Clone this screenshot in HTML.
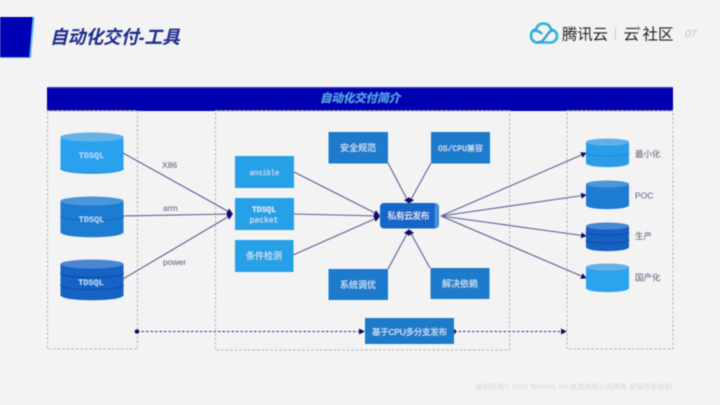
<!DOCTYPE html>
<html lang="zh"><head><meta charset="utf-8"><title>自动化交付-工具</title>
<style>
html,body{margin:0;padding:0;width:720px;height:405px;overflow:hidden;background:#f3f3f4}
svg{display:block}
text{font-family:"Liberation Sans","Noto Sans CJK SC",sans-serif}
.m{font-family:"Liberation Mono","Noto Sans CJK SC",monospace}
</style></head><body>
<svg width="720" height="405" viewBox="0 0 720 405" xmlns="http://www.w3.org/2000/svg">
<defs>
<marker id="a" markerWidth="6" markerHeight="6" refX="5" refY="3" orient="auto" markerUnits="userSpaceOnUse"><path d="M0 0L6 3L0 6Z" fill="#0a0f6e"/></marker>
<filter id="b" x="-5%" y="-5%" width="110%" height="110%"><feGaussianBlur stdDeviation="0.4"/></filter>
<linearGradient id="g" x1="0" y1="0" x2="1" y2="0"><stop offset="0" stop-color="#1565c8"/><stop offset=".92" stop-color="#1565c8"/><stop offset=".94" stop-color="#4f95df"/><stop offset="1" stop-color="#3a85d6"/></linearGradient>
</defs>
<rect width="720" height="405" fill="#f3f3f4"/>
<g filter="url(#b)">
<!-- header -->
<path d="M0 17H34.500L31 58H0Z" fill="#67bdf5"/>
<path d="M0 17H33L29.500 57.500H0Z" fill="#0404b4"/>
<text x="50" y="43.500" font-size="18.500" font-weight="700" font-style="italic" fill="#1a2a8c" textLength="130" lengthAdjust="spacingAndGlyphs">自动化交付-工具</text>
<!-- logo -->
<g fill="none" stroke="#2bb4d6" stroke-width="2.600">
<path d="M537 42.500h13a6.500 6.500 0 0 0 1-13c-1-4-4-6-7-6-4 0-7 2-8 6-3 0-5 3-5 6.500s3 6.500 6 6.500z"/>
<path d="M537 42.500c5 0 6-2 9-6 2-3 4-6 7-6" stroke="#3aa0dc"/>
<path d="M533 31c4-1 7 1 9 3" stroke="#3aa0dc"/>
</g>
<text x="562" y="39.500" font-size="15.500" fill="#222" textLength="46">腾讯云</text>
<rect x="615" y="27" width="1" height="13" fill="#c8c8c8"/>
<text x="623.500" y="39.500" font-size="15.500" fill="#222">云</text>
<text x="636" y="31" font-size="8" fill="#222">+</text>
<text x="642.500" y="39.500" font-size="15.500" fill="#222" textLength="31">社区</text>
<text x="685" y="37" font-size="10.500" font-style="italic" fill="#c4c4c4">07</text>
<!-- banner -->
<rect x="47" y="87" width="626" height="24" fill="#0404b0"/>
<rect x="47" y="87" width="626" height="1" fill="#3a3acb"/>
<text x="360" y="102" font-size="11.500" font-style="italic" font-weight="700" fill="#55a4ea" text-anchor="middle" textLength="80">自动化交付简介</text>
<!-- dashed containers -->
<g fill="none" stroke="#b5b5ba" stroke-width="1" stroke-dasharray="2.500 2">
<rect x="47.500" y="111" width="90" height="238"/>
<rect x="215.500" y="111" width="294" height="239"/>
<rect x="567" y="111" width="106" height="238"/>
</g>
<!-- left cylinders -->
<g>
<path d="M60.500 137V168C60.500 175 123.500 175 123.500 168V137Z" fill="#2ba1ee"/>
<ellipse cx="92" cy="137" rx="31.500" ry="4.500" fill="#65b3e6"/>
<path d="M60.500 168C60.500 175 123.500 175 123.500 168" fill="none" stroke="#1c84d2" stroke-width="1"/>
<path d="M60.500 201V232C60.500 239 123.500 239 123.500 232V201Z" fill="#1b7bd1"/>
<ellipse cx="92" cy="201" rx="31.500" ry="4.500" fill="#4a96d8"/>
<path d="M60.500 216C60.500 222 123.500 222 123.500 216" fill="none" stroke="#1569bc" stroke-width="1"/>
<path d="M60.500 264V295C60.500 302 123.500 302 123.500 295V264Z" fill="#1762c5"/>
<ellipse cx="92" cy="264" rx="31.500" ry="4.500" fill="#4a86d4"/>
<g fill="none" stroke="#0d4aa3" stroke-width="1"><path d="M60.500 273C60.500 279 123.500 279 123.500 273"/><path d="M60.500 285C60.500 291 123.500 291 123.500 285"/></g>
</g>
<g class="m" font-size="8.500" font-weight="700" fill="#a9dcfb" text-anchor="middle">
<text class="m" x="91.500" y="158">TDSQL</text>
<text class="m" x="91.500" y="222">TDSQL</text>
<text class="m" x="91" y="285">TDSQL</text>
</g>
<!-- connectors -->
<g fill="none" stroke="#5d5f93" stroke-width="1.100">
<line x1="123" y1="153" x2="232" y2="213.500" marker-end="url(#a)"/>
<line x1="123" y1="216" x2="232" y2="214" marker-end="url(#a)"/>
<line x1="123" y1="279" x2="232" y2="214.500" marker-end="url(#a)"/>
<line x1="294" y1="172" x2="379" y2="215" marker-end="url(#a)"/>
<line x1="294" y1="214" x2="379" y2="216" marker-end="url(#a)"/>
<line x1="293" y1="255" x2="379" y2="217" marker-end="url(#a)"/>
<line x1="388" y1="163" x2="409" y2="203" marker-end="url(#a)"/>
<line x1="431" y1="163" x2="409" y2="203" marker-end="url(#a)"/>
<line x1="388" y1="269" x2="409" y2="230" marker-end="url(#a)"/>
<line x1="430" y1="268" x2="409" y2="230" marker-end="url(#a)"/>
<line x1="441" y1="216" x2="586" y2="153" marker-end="url(#a)"/>
<line x1="441" y1="216" x2="586" y2="195" marker-end="url(#a)"/>
<line x1="441" y1="216" x2="586" y2="236" marker-end="url(#a)"/>
<line x1="441" y1="216" x2="586" y2="278" marker-end="url(#a)"/>
</g>
<g fill="none" stroke="#2f3280" stroke-width="1" stroke-dasharray="2.500 2">
<line x1="137" y1="331.500" x2="364" y2="331.500" marker-end="url(#a)"/>
<line x1="454" y1="331.500" x2="566" y2="331.500" marker-end="url(#a)"/>
</g>
<circle cx="137" cy="331.500" r="2.300" fill="#0a0f6e"/>
<circle cx="454" cy="331.500" r="2.300" fill="#0a0f6e"/>
<!-- connector labels -->
<g font-size="8.500" fill="#5a5c78">
<text x="162" y="168">X86</text>
<text x="163" y="211">arm</text>
<text x="163" y="265">power</text>
</g>
<!-- boxes -->
<g fill="#27a0e6">
<rect x="235" y="156" width="59" height="32"/>
<rect x="235" y="198" width="59" height="32"/>
<rect x="235" y="240" width="58.500" height="32"/>
</g>
<g fill="#1b7ccb">
<rect x="328.500" y="132" width="59.500" height="31.500"/>
<rect x="431" y="132" width="59" height="31.500"/>
<rect x="328.500" y="269" width="59.500" height="31"/>
<rect x="430.500" y="268" width="59" height="31"/>
<rect x="365" y="318" width="89" height="26"/>
</g>
<rect x="380" y="203" width="59" height="25.500" rx="4" fill="url(#g)"/>
<g font-size="9" fill="#d8effc" text-anchor="middle">
<text class="m" font-size="7" x="264.500" y="175">ansible</text>
<text class="m" font-size="8" x="264" y="212" font-weight="700">TDSQL</text>
<text class="m" font-size="8" x="264" y="222.500">packet</text>
<text x="264" y="259">条件检测</text>
<text x="358" y="151">安全规范</text>
<text x="460.500" y="151" class="m" font-size="8">OS/CPU兼容</text>
<text x="358" y="288">系统调优</text>
<text x="460" y="287">解决依赖</text>
<text x="409.500" y="335" font-size="8.500" textLength="75">基于CPU多分支发布</text>
<text x="408.500" y="219" fill="#eaf5fd" textLength="42">私有云发布</text>
</g>
<!-- right cylinders -->
<path d="M586 142V163C586 168.500 629 168.500 629 163V142Z" fill="#2a9de8"/>
<ellipse cx="607.500" cy="142" rx="21.500" ry="3.500" fill="#5fb0e6"/>
<path d="M586 153C586 157 629 157 629 153" fill="none" stroke="#1d8ad8" stroke-width="1"/>
<path d="M586 184V205C586 210.500 629 210.500 629 205V184Z" fill="#1b7bd1"/>
<ellipse cx="607.500" cy="184" rx="21.500" ry="3.500" fill="#4a96d8"/>
<path d="M586 226V247C586 252.500 629 252.500 629 247V226Z" fill="#1560c2"/>
<ellipse cx="607.500" cy="226" rx="21.500" ry="3.500" fill="#4a86d4"/>
<g fill="none" stroke="#0d4aa3" stroke-width="1"><path d="M586 232C586 236 629 236 629 232"/><path d="M586 240C586 244 629 244 629 240"/></g>
<path d="M586 267V288C586 293.500 629 293.500 629 288V267Z" fill="#2ba4ee"/>
<ellipse cx="607.500" cy="267" rx="21.500" ry="3.500" fill="#65b3e6"/>
<g font-size="8.500" fill="#5a5c78">
<text x="635" y="157">最小化</text>
<text x="635" y="198.500">POC</text>
<text x="635" y="239">生产</text>
<text x="635" y="280.500">国产化</text>
</g>
<!-- footer -->
<text x="476" y="389" font-size="7" fill="#d6d6d8" textLength="196" lengthAdjust="spacingAndGlyphs">版权所有© 2020 Tencent, Inc.或其附属公司所有 保留所有权利</text>
</g>
</svg>
</body></html>
